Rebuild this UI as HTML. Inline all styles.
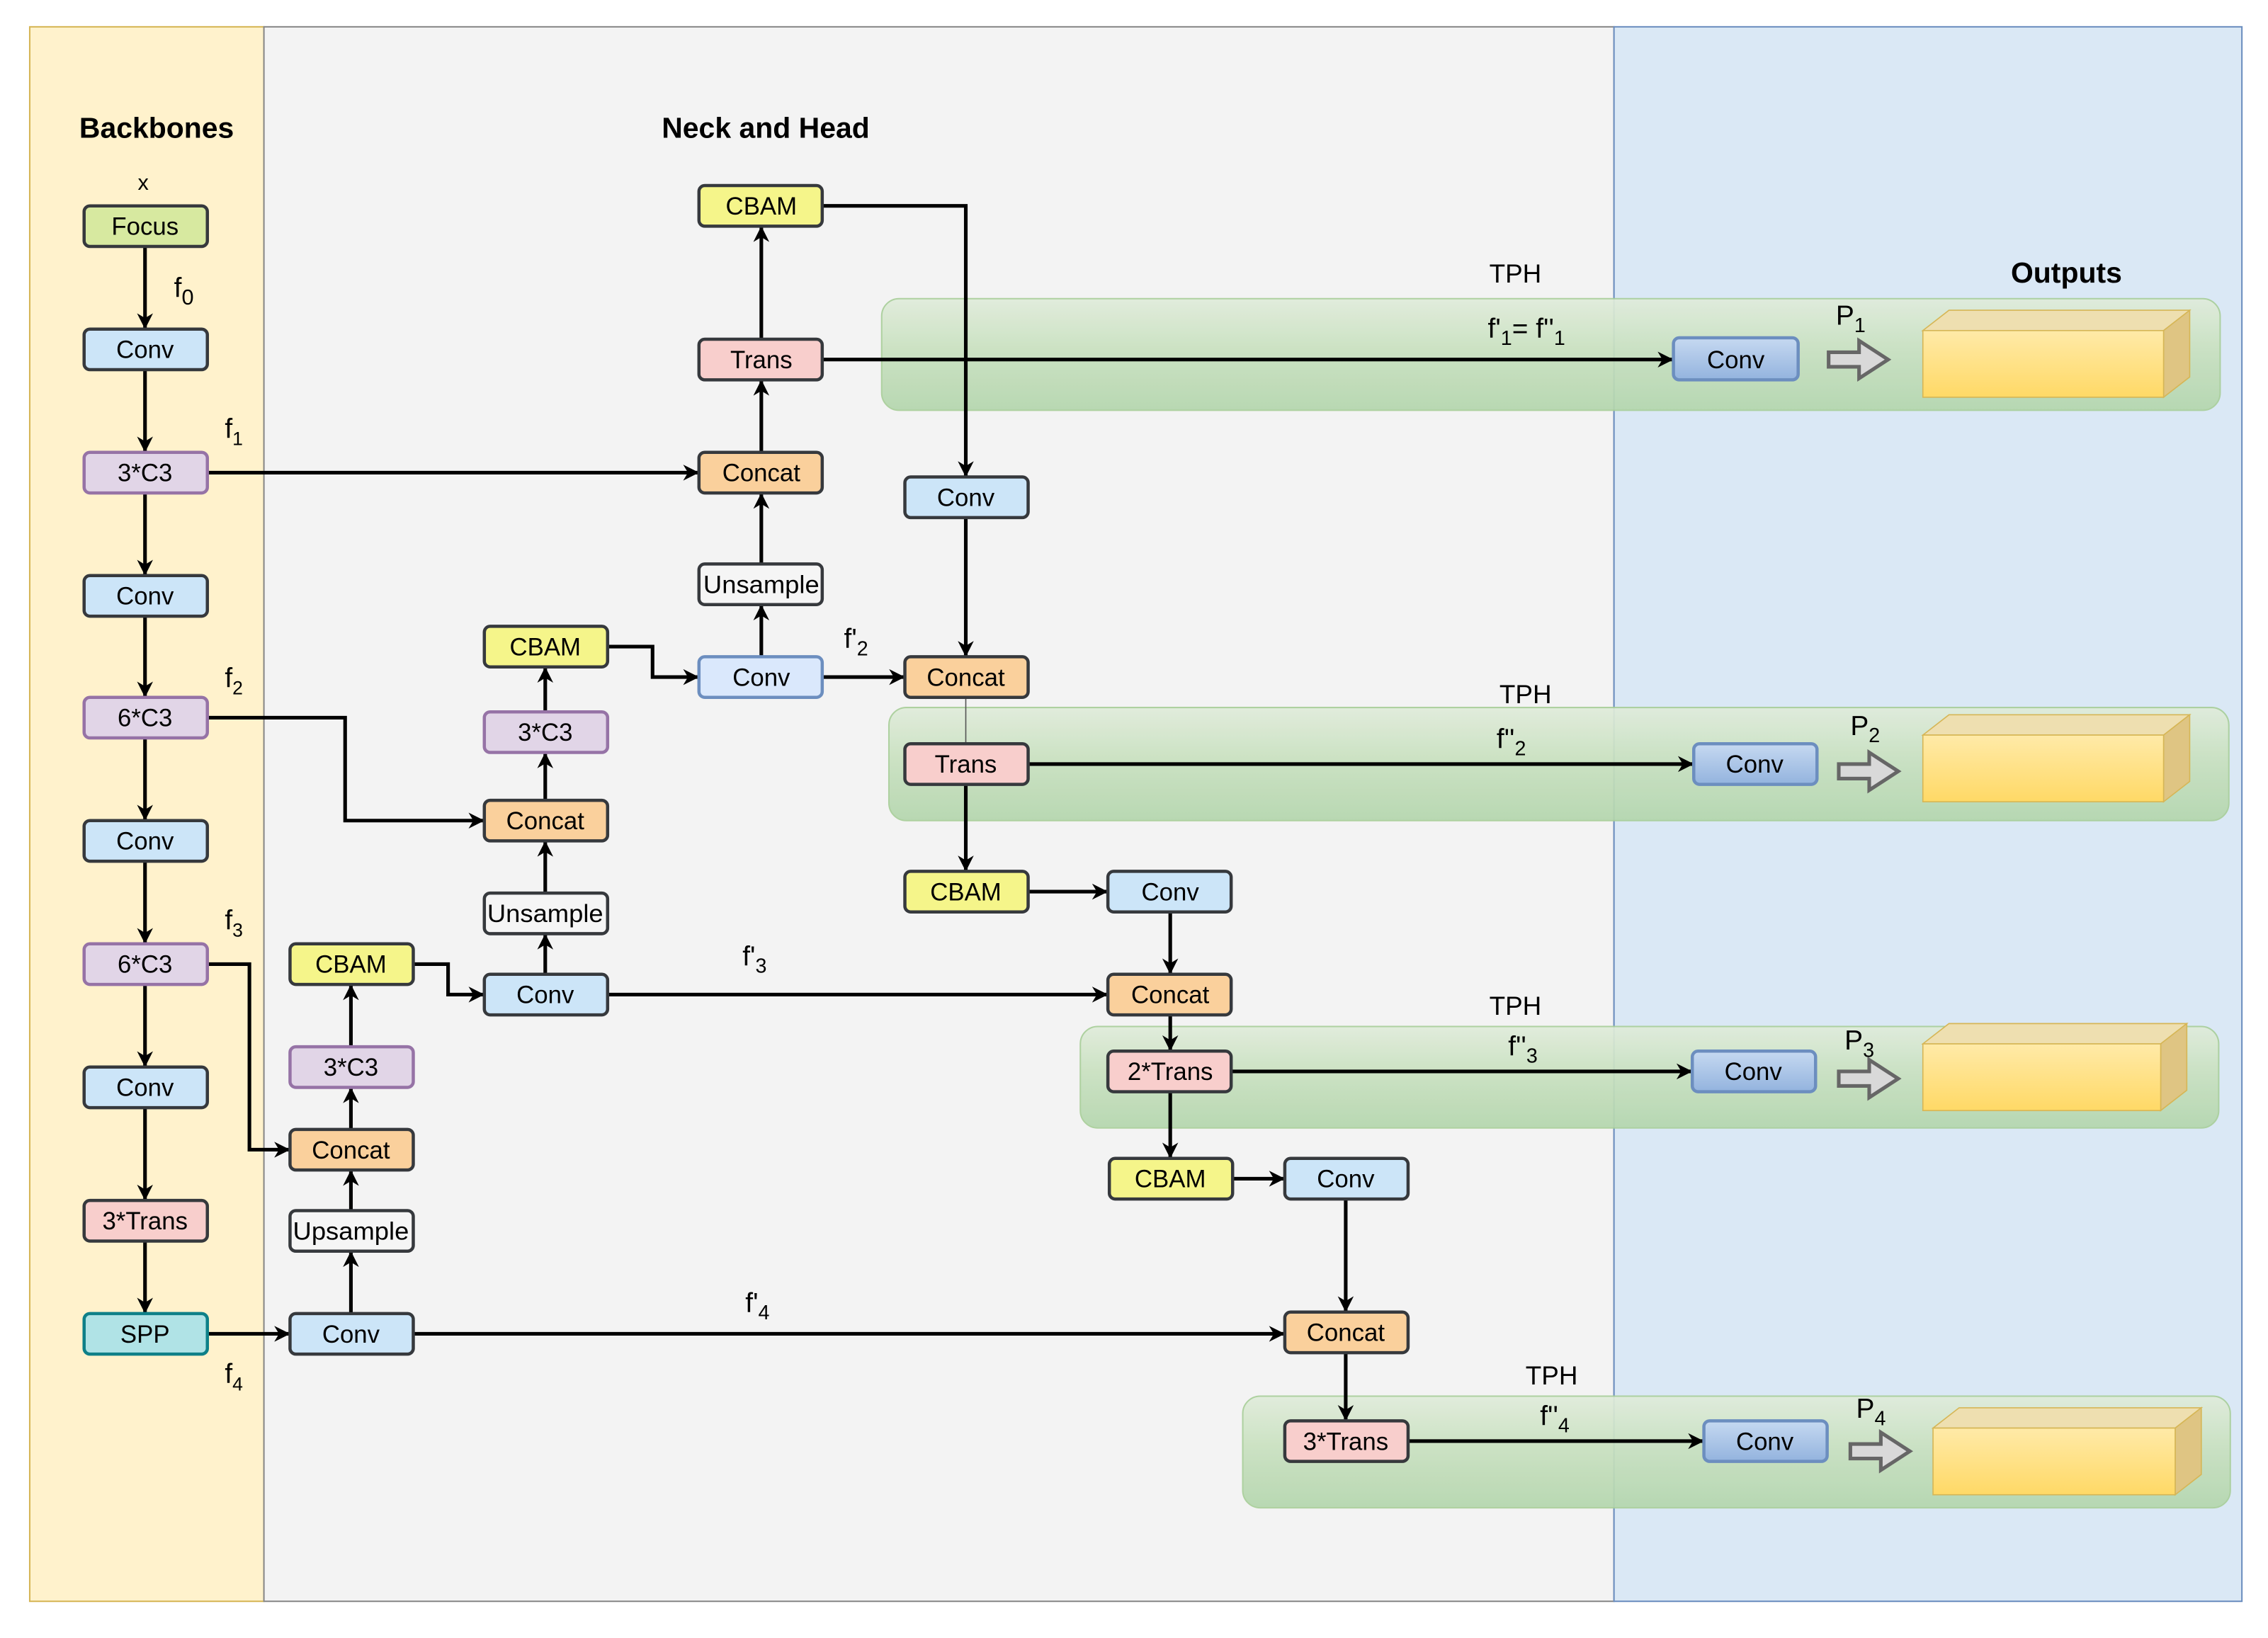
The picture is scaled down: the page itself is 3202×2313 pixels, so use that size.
<!DOCTYPE html>
<html><head><meta charset="utf-8"><style>html,body{margin:0;padding:0;background:#fff}svg{display:block}</style></head><body>
<svg width="3202" height="2313" viewBox="0 0 1564 1129.8" preserveAspectRatio="none" xmlns="http://www.w3.org/2000/svg" font-family="Liberation Sans, sans-serif">
<defs>
<marker id="a" viewBox="0 0 10 10" refX="9" refY="5" markerWidth="11" markerHeight="11" markerUnits="userSpaceOnUse" orient="auto"><path d="M0,0 L10,5 L0,10 L3,5 z" fill="#000"/></marker>
<linearGradient id="g" x1="0" y1="0" x2="0" y2="1"><stop offset="0" stop-color="#e0ecda"/><stop offset="0.45" stop-color="#c9e1c0"/><stop offset="1" stop-color="#b4d6ad"/></linearGradient>
<linearGradient id="b" x1="0" y1="0" x2="0" y2="1"><stop offset="0" stop-color="#c6d9f1"/><stop offset="1" stop-color="#93b3de"/></linearGradient>
<linearGradient id="y" x1="0" y1="0" x2="0" y2="1"><stop offset="0" stop-color="#ffeaa8"/><stop offset="1" stop-color="#ffd966"/></linearGradient>
</defs>
<rect width="1564" height="1130" fill="#fff"/>
<rect x="20.5" y="18.5" width="161.5" height="1086" fill="#fff2cc" stroke="#d6b656"/>
<rect x="182" y="18.5" width="931" height="1086" fill="#f3f3f3" stroke="#888"/>
<rect x="1113" y="18.5" width="433" height="1086" fill="#dae8f5" stroke="#6c8ebf"/>

<g fill="url(#g)" stroke="#a9cf9a" opacity="0.92">
<rect x="608" y="206" width="923" height="77" rx="12"/>
<rect x="613" y="488" width="924" height="78" rx="12"/>
<rect x="745" y="708" width="785" height="70" rx="12"/>
<rect x="857" y="963" width="681" height="77" rx="12"/>
</g>

<g font-size="20" font-weight="bold" text-anchor="middle">
<text x="108" y="95">Backbones</text><text x="528" y="95">Neck and Head</text><text x="1425" y="195">Outputs</text>
</g>
<g font-size="18" text-anchor="middle">
<text x="1045" y="195">TPH</text><text x="1052" y="485">TPH</text><text x="1045" y="700">TPH</text><text x="1070" y="955">TPH</text>
</g>
<g font-size="19">
<text x="1026" y="233">f'<tspan font-size="14" dy="5">1</tspan><tspan dy="-5">= f''</tspan><tspan font-size="14" dy="5">1</tspan></text>
<text x="1032" y="516">f''<tspan font-size="14" dy="5">2</tspan></text>
<text x="1040" y="728">f''<tspan font-size="14" dy="5">3</tspan></text>
<text x="1062" y="983">f''<tspan font-size="14" dy="5">4</tspan></text>
<text x="1266" y="224">P<tspan font-size="14" dy="5">1</tspan></text>
<text x="1276" y="507">P<tspan font-size="14" dy="5">2</tspan></text>
<text x="1272" y="724">P<tspan font-size="14" dy="5">3</tspan></text>
<text x="1280" y="978">P<tspan font-size="14" dy="5">4</tspan></text>
<text x="120" y="205">f<tspan font-size="15" dy="5">0</tspan></text>
<text x="155" y="302">f<tspan font-size="13" dy="5">1</tspan></text>
<text x="155" y="474">f<tspan font-size="13" dy="5">2</tspan></text>
<text x="155" y="641">f<tspan font-size="13" dy="5">3</tspan></text>
<text x="155" y="954">f<tspan font-size="13" dy="5">4</tspan></text>
<text x="582" y="447">f'<tspan font-size="14" dy="5">2</tspan></text>
<text x="512" y="666">f'<tspan font-size="14" dy="5">3</tspan></text>
<text x="514" y="905">f'<tspan font-size="14" dy="5">4</tspan></text>
<text x="95" y="131" font-size="15">x</text>
</g>

<g stroke="#000" stroke-width="2.5" fill="none" marker-end="url(#a)">
<path d="M100,170V226"/><path d="M100,255V311"/><path d="M100,340V396"/><path d="M100,425V480"/><path d="M100,509V565"/><path d="M100,594V650"/><path d="M100,679V735"/><path d="M100,764V827"/><path d="M100,856V905"/>
<path d="M143,326H481"/>
<path d="M143,495H238V566H333"/>
<path d="M143,665H172V793H199"/>
<path d="M143,920H199"/>
<path d="M242,906V864"/><path d="M242,835V808"/><path d="M242,779V751"/><path d="M242,722V680"/>
<path d="M285,665H309V686H333"/>
<path d="M285,920H885"/>
<path d="M376,672V645"/><path d="M376,616V581"/><path d="M376,552V520"/><path d="M376,491V461"/>
<path d="M419,446H450V467H481"/>
<path d="M419,686H763"/>
<path d="M525,453V418"/><path d="M525,389V341"/><path d="M525,312V263"/><path d="M525,234V157"/>
<path d="M567,467H623"/>
<path d="M567,142H666V328"/>
<path d="M567,248H1153"/>
<path d="M666,357V452"/>
<path d="M709,527H1167"/>
<path d="M666,541V600"/>
<path d="M709,615H763"/>
<path d="M807,629V671"/><path d="M807,700V724"/>
<path d="M849,739H1166"/>
<path d="M807,753V798"/>
<path d="M850,813H885"/>
<path d="M928,827V904"/><path d="M928,933V979"/>
<path d="M971,994H1174"/>
</g>
<path d="M666,481V513" stroke="#555" stroke-width="0.8"/>

<g stroke="#36393d" stroke-width="2.2" font-size="16" text-anchor="middle">
<g fill="#d7e9a0"><rect x="58" y="142" width="85" height="28" rx="4"/></g>
<g fill="#cce5f8">
<rect x="58" y="227" width="85" height="28" rx="4"/><rect x="58" y="397" width="85" height="28" rx="4"/><rect x="58" y="566" width="85" height="28" rx="4"/><rect x="58" y="736" width="85" height="28" rx="4"/>
<rect x="200" y="906" width="85" height="28" rx="4"/><rect x="334" y="672" width="85" height="28" rx="4"/>
<rect x="624" y="329" width="85" height="28" rx="4"/><rect x="764" y="601" width="85" height="28" rx="4"/><rect x="886" y="799" width="85" height="28" rx="4"/>
</g>
<rect x="482" y="453" width="85" height="28" rx="4" fill="#dae8fc" stroke="#6c8ebf"/>
<g fill="#e1d5e7" stroke="#9673a6">
<rect x="58" y="312" width="85" height="28" rx="4"/><rect x="58" y="481" width="85" height="28" rx="4"/><rect x="58" y="651" width="85" height="28" rx="4"/>
<rect x="200" y="722" width="85" height="28" rx="4"/><rect x="334" y="491" width="85" height="28" rx="4"/>
</g>
<g fill="#f8cecc">
<rect x="58" y="828" width="85" height="28" rx="4"/><rect x="482" y="234" width="85" height="28" rx="4"/><rect x="624" y="513" width="85" height="28" rx="4"/><rect x="764" y="725" width="85" height="28" rx="4"/><rect x="886" y="980" width="85" height="28" rx="4"/>
</g>
<rect x="58" y="906" width="85" height="28" rx="4" fill="#b0e3e6" stroke="#0e8088"/>
<g fill="#f5f58a">
<rect x="200" y="651" width="85" height="28" rx="4"/><rect x="334" y="432" width="85" height="28" rx="4"/><rect x="482" y="128" width="85" height="28" rx="4"/><rect x="624" y="601" width="85" height="28" rx="4"/><rect x="765" y="799" width="85" height="28" rx="4"/>
</g>
<g fill="#fad09c">
<rect x="200" y="779" width="85" height="28" rx="4"/><rect x="334" y="552" width="85" height="28" rx="4"/><rect x="482" y="312" width="85" height="28" rx="4"/><rect x="624" y="453" width="85" height="28" rx="4"/><rect x="764" y="672" width="85" height="28" rx="4"/><rect x="886" y="905" width="85" height="28" rx="4"/>
</g>
<g fill="#f5f5f5">
<rect x="200" y="835" width="85" height="28" rx="4"/><rect x="334" y="616" width="85" height="28" rx="4"/><rect x="482" y="389" width="85" height="28" rx="4"/>
</g>
<g fill="url(#b)" stroke="#6c8ebf">
<rect x="1154" y="233" width="86" height="29" rx="4"/><rect x="1168" y="513" width="85" height="28" rx="4"/><rect x="1167" y="725" width="85" height="28" rx="4"/><rect x="1175" y="980" width="85" height="28" rx="4"/>
</g>
</g>
<g font-size="17" text-anchor="middle" fill="#000">
<text x="100" y="162">Focus</text><text x="100" y="247">Conv</text><text x="100" y="332">3*C3</text><text x="100" y="417">Conv</text><text x="100" y="501">6*C3</text><text x="100" y="586">Conv</text><text x="100" y="671">6*C3</text><text x="100" y="756">Conv</text><text x="100" y="848">3*Trans</text><text x="100" y="926">SPP</text>
<text x="242" y="671">CBAM</text><text x="242" y="742">3*C3</text><text x="242" y="799">Concat</text><text x="242" y="855" textLength="80" lengthAdjust="spacingAndGlyphs">Upsample</text><text x="242" y="926">Conv</text>
<text x="376" y="452">CBAM</text><text x="376" y="511">3*C3</text><text x="376" y="572">Concat</text><text x="376" y="636" textLength="80" lengthAdjust="spacingAndGlyphs">Unsample</text><text x="376" y="692">Conv</text>
<text x="525" y="148">CBAM</text><text x="525" y="254">Trans</text><text x="525" y="332">Concat</text><text x="525" y="409" textLength="80" lengthAdjust="spacingAndGlyphs">Unsample</text><text x="525" y="473">Conv</text>
<text x="666" y="349">Conv</text><text x="666" y="473">Concat</text><text x="666" y="533">Trans</text><text x="666" y="621">CBAM</text>
<text x="807" y="621">Conv</text><text x="807" y="692">Concat</text><text x="807" y="745">2*Trans</text><text x="807" y="819">CBAM</text>
<text x="928" y="819">Conv</text><text x="928" y="925">Concat</text><text x="928" y="1000">3*Trans</text>
<text x="1197" y="254">Conv</text><text x="1210" y="533">Conv</text><text x="1209" y="745">Conv</text><text x="1217" y="1000">Conv</text>
</g>

<g fill="#d9d9d9" stroke="#666" stroke-width="2.5">
<path d="M1261,243h21v-8l20,13l-20,13v-8h-21z"/>
<path d="M1268,527h21v-8l20,13l-20,13v-8h-21z"/>
<path d="M1268,739h21v-8l20,13l-20,13v-8h-21z"/>
<path d="M1276,996h21v-8l20,13l-20,13v-8h-21z"/>
</g>
<g stroke="#d6b656" stroke-width="0.8">
<g><path d="M1326,228l18,-14h166l-18,14z" fill="#eedfb0"/><path d="M1492,228l18,-14v46l-18,14z" fill="#dfc583"/><rect x="1326" y="228" width="166" height="46" fill="url(#y)"/></g>
<g><path d="M1326,507l18,-14h166l-18,14z" fill="#eedfb0"/><path d="M1492,507l18,-14v46l-18,14z" fill="#dfc583"/><rect x="1326" y="507" width="166" height="46" fill="url(#y)"/></g>
<g><path d="M1326,720l18,-14h164l-18,14z" fill="#eedfb0"/><path d="M1490,720l18,-14v46l-18,14z" fill="#dfc583"/><rect x="1326" y="720" width="164" height="46" fill="url(#y)"/></g>
<g><path d="M1333,985l18,-14h167l-18,14z" fill="#eedfb0"/><path d="M1500,985l18,-14v46l-18,14z" fill="#dfc583"/><rect x="1333" y="985" width="167" height="46" fill="url(#y)"/></g>
</g>
</svg>
</body></html>
